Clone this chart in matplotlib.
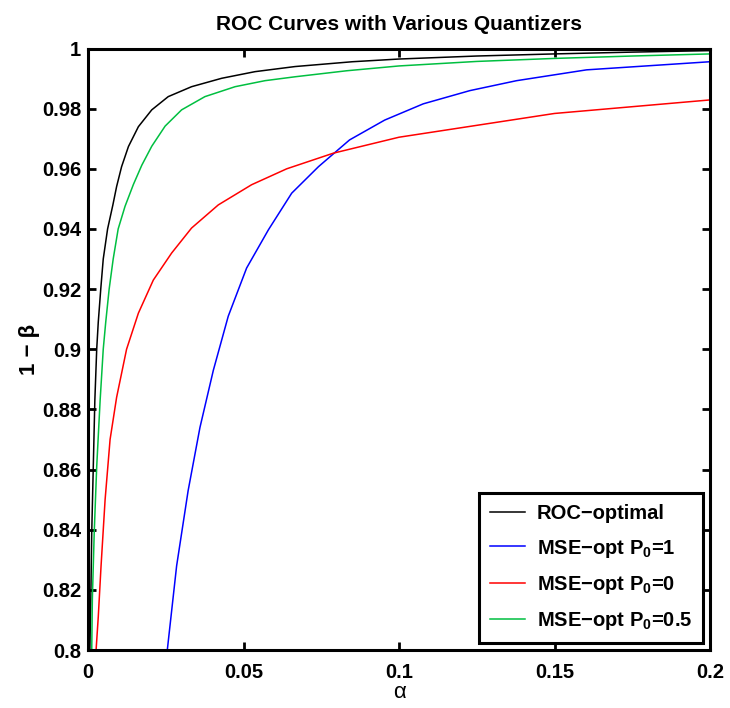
import matplotlib
matplotlib.use("Agg")
from matplotlib import pyplot as plt

# values
black_alpha = [0.0006, 0.0009, 0.0012, 0.0017, 0.0022, 0.0028, 0.0033, 0.0041, 0.0049, 0.0063,
               0.0080, 0.0092, 0.0108, 0.0130, 0.0162, 0.0205, 0.0258, 0.0333, 0.0430, 0.0537,
               0.0666, 0.085, 0.100, 0.125, 0.15, 0.175, 0.2]
black_pd = [0.800, 0.817, 0.839, 0.861, 0.883, 0.900, 0.909, 0.920, 0.930, 0.940,
            0.948, 0.9541, 0.9607, 0.9674, 0.9740, 0.9796, 0.9840, 0.9873, 0.9901, 0.9923,
            0.9940, 0.9956, 0.9965, 0.9975, 0.9982, 0.9988, 0.9993]

blue_alpha = [0.0255, 0.0285, 0.0322, 0.036, 0.0403, 0.0451, 0.051, 0.058, 0.0655, 0.0741,
              0.0841, 0.0954, 0.1078, 0.1228, 0.1378, 0.1603, 0.2]
blue_pd = [0.800, 0.828, 0.853, 0.874, 0.893, 0.911, 0.927, 0.9397, 0.9519, 0.9607,
           0.9696, 0.9762, 0.9816, 0.986, 0.9893, 0.9929, 0.9956]

red_alpha = [0.0026, 0.0033, 0.0042, 0.0055, 0.0071, 0.0092, 0.0124, 0.0162, 0.021, 0.0269,
             0.0333, 0.0419, 0.0526, 0.0639, 0.0789, 0.1, 0.15, 0.2]
red_pd = [0.800, 0.811, 0.828, 0.850, 0.870, 0.884, 0.900, 0.912, 0.923, 0.932,
          0.9403, 0.948, 0.9547, 0.960, 0.9652, 0.9705, 0.9784, 0.9829]

green_alpha = [0.0012, 0.0014, 0.002, 0.0028, 0.0039, 0.0049, 0.0057, 0.0068, 0.0081, 0.0097,
               0.0119, 0.0146, 0.0173, 0.0205, 0.0248, 0.0301, 0.0376, 0.0473, 0.0569, 0.0666,
               0.0832, 0.1, 0.125, 0.15, 0.175, 0.2]
green_pd = [0.800, 0.817, 0.839, 0.861, 0.883, 0.900, 0.909, 0.920, 0.930, 0.940,
            0.9475, 0.9548, 0.9612, 0.9675, 0.9742, 0.9796, 0.9840, 0.9873, 0.9893, 0.9906,
            0.9926, 0.9942, 0.9957, 0.9967, 0.9975, 0.9982]

labels = ["ROC\u2212optimal",
          "MSE\u2212opt P$_{\\mathbf{0}}$=1",
          "MSE\u2212opt P$_{\\mathbf{0}}$=0",
          "MSE\u2212opt P$_{\\mathbf{0}}$=0.5"]
xticks = [0, 0.05, 0.1, 0.15, 0.2]
xticklabels = ["0", "0.05", "0.1", "0.15", "0.2"]
yticks = [0.8, 0.82, 0.84, 0.86, 0.88, 0.9, 0.92, 0.94, 0.96, 0.98, 1.0]
yticklabels = ["0.8", "0.82", "0.84", "0.86", "0.88", "0.9", "0.92", "0.94", "0.96", "0.98", "1"]

plt.rcParams["font.family"] = ["Liberation Sans", "DejaVu Sans"]
plt.rcParams["font.weight"] = "bold"
plt.rcParams["mathtext.fontset"] = "custom"
plt.rcParams["mathtext.rm"] = "Liberation Sans:bold"
plt.rcParams["mathtext.bf"] = "Liberation Sans:bold"
plt.rcParams["mathtext.it"] = "Liberation Sans:bold"

fig = plt.figure(figsize=(7.3, 7.08), dpi=100)
ax = fig.add_axes([88 / 730, 58 / 708, 622 / 730, 601.5 / 708])

lw = 1.1
ax.plot(black_alpha, black_pd, color="black", lw=lw, label=labels[0])
ax.plot(blue_alpha, blue_pd, color="#0000ff", lw=lw, label=labels[1])
ax.plot(red_alpha, red_pd, color="#ff0000", lw=lw, label=labels[2])
ax.plot(green_alpha, green_pd, color="#00bf40", lw=lw, label=labels[3])

ax.set_xlim(0, 0.2)
ax.set_ylim(0.8, 1.0)
ax.set_xticks(xticks)
ax.set_xticklabels(xticklabels)
ax.set_yticks(yticks)
ax.set_yticklabels(yticklabels)
ax.tick_params(direction="in", length=6, width=2, labelsize=14.5, pad=5,
               top=True, right=True)
ax.tick_params(axis="x", pad=9)
for s in ax.spines.values():
    s.set_linewidth(2.2)

ax.set_title("ROC Curves with Various Quantizers", fontsize=15, fontweight="bold", pad=13)
ax.set_xlabel("\u03b1", fontsize=16, fontweight="normal", labelpad=0)
ax.set_ylabel("1 \u2212 \u03b2", fontsize=16, fontweight="bold", labelpad=1)

leg = ax.legend(loc="lower right", bbox_to_anchor=(0.989, 0.012), borderaxespad=0,
                fancybox=False, edgecolor="black", framealpha=1, fontsize=14.5,
                handlelength=1.7, handletextpad=0.6, labelspacing=0.7,
                borderpad=0.55)
leg.get_frame().set_linewidth(2.2)

fig.savefig("out.png", dpi=100)
